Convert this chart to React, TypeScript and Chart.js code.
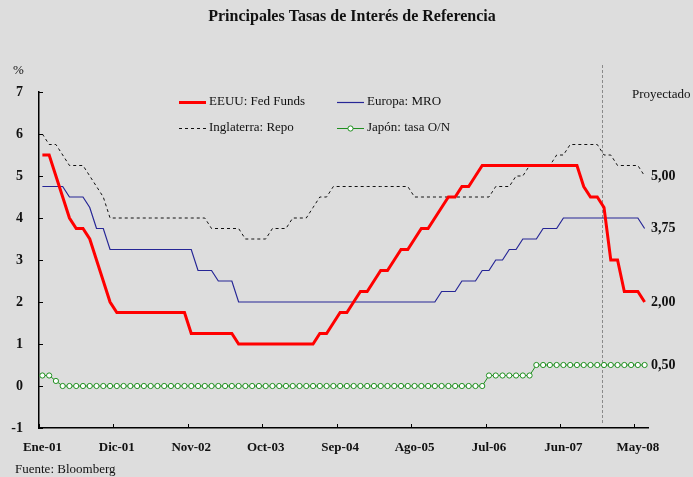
import React, { useEffect, useRef } from 'react';
import { Chart, registerables } from 'chart.js';

Chart.register(...registerables);

// ---------- data ----------
const MONTHS = ['Ene', 'Feb', 'Mar', 'Abr', 'May', 'Jun', 'Jul', 'Ago', 'Sep', 'Oct', 'Nov', 'Dic'];
const YEARS = ['01', '02', '03', '04', '05', '06', '07', '08'];
const N_MONTHS = 90; // Ene-01 .. Jun-08
const CATEGORIES = Array.from({ length: N_MONTHS }, (_, i) => `${MONTHS[i % 12]}-${YEARS[Math.floor(i / 12)]}`);
const TICK_EVERY = 11; // Ene-01, Dic-01, Nov-02, ...

const FED_FUNDS = [
  5.5, 5.5, 5.0, 4.5, 4.0, 3.75, 3.75, 3.5, 3.0, 2.5, 2.0,
  1.75, 1.75, 1.75, 1.75, 1.75, 1.75, 1.75, 1.75, 1.75, 1.75, 1.75,
  1.25, 1.25, 1.25, 1.25, 1.25, 1.25, 1.25,
  1.0, 1.0, 1.0, 1.0, 1.0, 1.0, 1.0, 1.0, 1.0, 1.0, 1.0, 1.0,
  1.25, 1.25, 1.5, 1.75, 1.75, 2.0, 2.25, 2.25, 2.5, 2.75, 2.75, 3.0, 3.25, 3.25,
  3.5, 3.75, 3.75, 4.0, 4.25, 4.5, 4.5, 4.75, 4.75, 5.0,
  5.25, 5.25, 5.25, 5.25, 5.25, 5.25, 5.25, 5.25, 5.25, 5.25, 5.25, 5.25, 5.25, 5.25, 5.25,
  4.75, 4.5, 4.5, 4.25, 3.0, 3.0, 2.25, 2.25, 2.25, 2.0,
];

const EUROPA_MRO = [
  4.75, 4.75, 4.75, 4.75, 4.5, 4.5, 4.5, 4.25, 3.75, 3.75,
  3.25, 3.25, 3.25, 3.25, 3.25, 3.25, 3.25, 3.25, 3.25, 3.25, 3.25, 3.25, 3.25,
  2.75, 2.75, 2.75, 2.5, 2.5, 2.5,
  2.0, 2.0, 2.0, 2.0, 2.0, 2.0, 2.0, 2.0, 2.0, 2.0, 2.0, 2.0, 2.0, 2.0, 2.0,
  2.0, 2.0, 2.0, 2.0, 2.0, 2.0, 2.0, 2.0, 2.0, 2.0, 2.0, 2.0, 2.0, 2.0, 2.0,
  2.25, 2.25, 2.25, 2.5, 2.5, 2.5, 2.75, 2.75, 3.0, 3.0, 3.25, 3.25,
  3.5, 3.5, 3.5, 3.75, 3.75, 3.75,
  4.0, 4.0, 4.0, 4.0, 4.0, 4.0, 4.0, 4.0, 4.0, 4.0, 4.0, 4.0,
  3.75,
];

const INGLATERRA_REPO = [
  6.0, 5.75, 5.75, 5.5, 5.25, 5.25, 5.25, 5.0, 4.75, 4.5,
  4.0, 4.0, 4.0, 4.0, 4.0, 4.0, 4.0, 4.0, 4.0, 4.0, 4.0, 4.0, 4.0, 4.0, 4.0,
  3.75, 3.75, 3.75, 3.75, 3.75, 3.5, 3.5, 3.5, 3.5, 3.75, 3.75, 3.75,
  4.0, 4.0, 4.0, 4.25, 4.5, 4.5,
  4.75, 4.75, 4.75, 4.75, 4.75, 4.75, 4.75, 4.75, 4.75, 4.75, 4.75, 4.75,
  4.5, 4.5, 4.5, 4.5, 4.5, 4.5, 4.5, 4.5, 4.5, 4.5, 4.5, 4.5,
  4.75, 4.75, 4.75, 5.0, 5.0, 5.25, 5.25, 5.25, 5.25, 5.5, 5.5,
  5.75, 5.75, 5.75, 5.75, 5.75, 5.5, 5.5, 5.25, 5.25, 5.25, 5.25, 5.0,
];

const JAPON_ON = [
  0.25, 0.25, 0.12,
  0, 0, 0, 0, 0, 0, 0, 0, 0, 0, 0, 0, 0, 0, 0, 0, 0, 0, 0, 0, 0,
  0, 0, 0, 0, 0, 0, 0, 0, 0, 0, 0, 0, 0, 0, 0, 0, 0, 0, 0, 0, 0,
  0, 0, 0, 0, 0, 0, 0, 0, 0, 0, 0, 0, 0, 0, 0, 0, 0, 0, 0, 0, 0,
  0.25, 0.25, 0.25, 0.25, 0.25, 0.25, 0.25,
  0.5, 0.5, 0.5, 0.5, 0.5, 0.5, 0.5, 0.5, 0.5, 0.5, 0.5, 0.5, 0.5, 0.5, 0.5, 0.5, 0.5,
];

const Y_MIN = -1;
const Y_MAX = 7;
const PROJECTION_START = 82.75; // category index where "Proyectado" begins

const TITLE = 'Principales Tasas de Interés de Referencia';
const SOURCE = 'Fuente: Bloomberg';
const UNIT = '%';
const PROJECTED_LABEL = 'Proyectado';

const SERIF = '"Liberation Serif", "Times New Roman", serif';

const fmt = (v: number) => v.toFixed(2).replace('.', ',');

const overlayPlugin = {
  id: 'overlay',
  beforeDatasetsDraw(chart: any) {
    const { ctx, scales } = chart;
    const x = scales.x;
    const px = x.getPixelForValue(PROJECTION_START);
    ctx.save();
    ctx.strokeStyle = '#8a8a8a';
    ctx.lineWidth = 1;
    ctx.setLineDash([3, 2]);
    ctx.beginPath();
    ctx.moveTo(Math.round(px) + 0.5, 65);
    ctx.lineTo(Math.round(px) + 0.5, 423);
    ctx.stroke();
    ctx.restore();
  },
  afterDraw(chart: any) {
    const { ctx, chartArea, scales } = chart;
    const x = scales.x;
    const y = scales.y;
    ctx.save();
    // inward tick marks
    ctx.strokeStyle = '#000';
    ctx.lineWidth = 1;
    for (let v = Y_MIN; v <= Y_MAX; v++) {
      const py = Math.round(y.getPixelForValue(v)) + 0.5;
      ctx.beginPath();
      ctx.moveTo(chartArea.left, py);
      ctx.lineTo(chartArea.left + 4, py);
      ctx.stroke();
    }
    for (let i = 0; i < N_MONTHS; i += TICK_EVERY) {
      const px = Math.round(x.getPixelForValue(i - 0.5)) + 0.5;
      ctx.beginPath();
      ctx.moveTo(px, chartArea.bottom);
      ctx.lineTo(px, chartArea.bottom - 4);
      ctx.stroke();
    }

    // title
    ctx.fillStyle = '#111';
    ctx.textBaseline = 'middle';
    ctx.textAlign = 'center';
    ctx.font = `bold 16px ${SERIF}`;
    ctx.fillText(TITLE, 352, 17);

    // unit, source, projected
    ctx.textAlign = 'left';
    ctx.font = `13px ${SERIF}`;
    ctx.fillText(UNIT, 13, 71);
    ctx.fillText(SOURCE, 15, 470);
    ctx.fillText(PROJECTED_LABEL, 632, 95);

    // end labels
    ctx.font = `bold 14px ${SERIF}`;
    chart.data.datasets.forEach((ds: any) => {
      const last = ds.data[ds.data.length - 1];
      ctx.fillText(fmt(last), 651, y.getPixelForValue(last));
    });

    // legend
    const cols = [179, 337];
    const rows = [102, 128];
    const order = [0, 1, 2, 3];
    order.forEach((di, k) => {
      const ds = chart.data.datasets[di];
      const lx = cols[k % 2];
      const ly = rows[Math.floor(k / 2)];
      ctx.save();
      ctx.strokeStyle = ds.borderColor;
      ctx.lineWidth = ds.borderWidth;
      ctx.setLineDash(ds.borderDash || []);
      ctx.beginPath();
      ctx.moveTo(lx, ly + 0.5);
      ctx.lineTo(lx + 27, ly + 0.5);
      ctx.stroke();
      if (ds.pointRadius > 0) {
        ctx.setLineDash([]);
        ctx.fillStyle = ds.pointBackgroundColor;
        ctx.strokeStyle = ds.pointBorderColor;
        ctx.lineWidth = ds.pointBorderWidth;
        ctx.beginPath();
        ctx.arc(lx + 13.5, ly + 0.5, ds.pointRadius, 0, Math.PI * 2);
        ctx.fill();
        ctx.stroke();
      }
      ctx.restore();
      ctx.fillStyle = '#111';
      ctx.font = `13px ${SERIF}`;
      ctx.textAlign = 'left';
      ctx.textBaseline = 'middle';
      ctx.fillText(ds.label, lx + 30, ly);
    });
    ctx.restore();
  },
};

export default function App() {
  const canvasRef = useRef<HTMLCanvasElement | null>(null);

  useEffect(() => {
    const canvas = canvasRef.current;
    if (!canvas) return;
    const chart = new Chart(canvas, {
      type: 'line',
      data: {
        labels: CATEGORIES,
        datasets: [
          {
            label: 'EEUU: Fed Funds',
            data: FED_FUNDS,
            borderColor: '#ff0000',
            borderWidth: 3,
            pointRadius: 0,
            tension: 0,
          },
          {
            label: 'Europa: MRO',
            data: EUROPA_MRO,
            borderColor: '#262696',
            borderWidth: 1.2,
            pointRadius: 0,
            tension: 0,
          },
          {
            label: 'Inglaterra: Repo',
            data: INGLATERRA_REPO,
            borderColor: '#111111',
            borderWidth: 1,
            borderDash: [3, 3],
            pointRadius: 0,
            tension: 0,
          },
          {
            label: 'Japón: tasa O/N',
            data: JAPON_ON,
            borderColor: '#1f8f1f',
            borderWidth: 1,
            pointRadius: 2.6,
            pointBorderWidth: 1,
            pointBorderColor: '#1f8f1f',
            pointBackgroundColor: '#ffffff',
            tension: 0,
          },
        ] as any,
      },
      options: {
        animation: false,
        responsive: false,
        devicePixelRatio: 1,
        events: [],
        layout: { padding: { top: 92, right: 45, bottom: 0, left: 0 } },
        plugins: {
          legend: { display: false },
          title: { display: false },
          tooltip: { enabled: false },
        },
        scales: {
          x: {
            type: 'category',
            offset: true,
            grid: { display: true, drawOnChartArea: false, drawTicks: false, offset: true },
            border: { display: true, color: '#000', width: 1.5 },
            ticks: {
              autoSkip: false,
              maxRotation: 0,
              padding: 12,
              color: '#111',
              font: { family: SERIF, size: 13, weight: 'bold' },
              callback: function (this: any, value: any, index: number) {
                return index % TICK_EVERY === 0 ? this.getLabelForValue(value) : '';
              },
            },
            afterFit: (scale: any) => {
              scale.height = 49;
            },
          },
          y: {
            min: Y_MIN,
            max: Y_MAX,
            grid: { display: true, drawOnChartArea: false, drawTicks: false },
            border: { display: true, color: '#000', width: 1.5 },
            ticks: {
              stepSize: 1,
              padding: 16,
              color: '#111',
              font: { family: SERIF, size: 14, weight: 'bold' },
            },
            afterFit: (scale: any) => {
              scale.width = 39;
            },
          },
        },
      } as any,
      plugins: [overlayPlugin],
    });
    return () => chart.destroy();
  }, []);

  return (
    <div
      style={{
        position: 'fixed',
        left: 0,
        top: 0,
        width: 693,
        height: 477,
        background: '#dddddd',
      }}
    >
      <canvas ref={canvasRef} width={693} height={477} style={{ display: 'block' }} />
    </div>
  );
}
